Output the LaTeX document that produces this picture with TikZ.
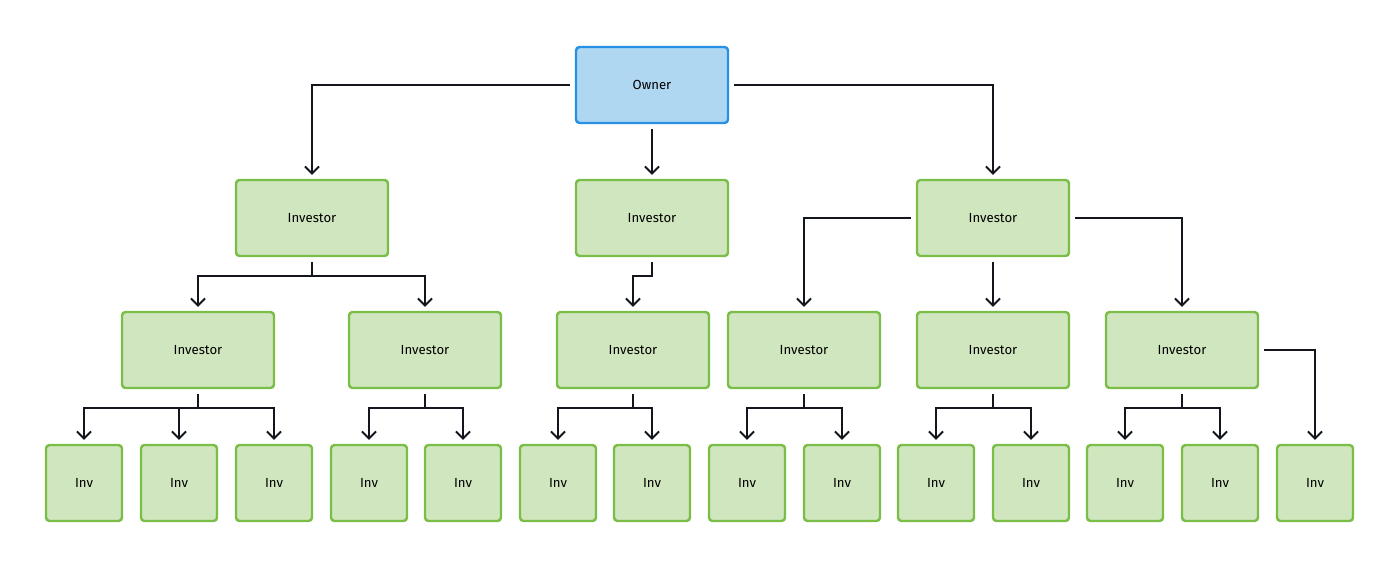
\documentclass[tikz,border=0pt]{standalone}
\usepackage{fontspec}
\setmainfont{Fira Sans}
\usetikzlibrary{positioning}
\usetikzlibrary{arrows.meta}
\definecolor{ownerfill}{RGB}{176, 215, 242}
\definecolor{ownerdraw}{RGB}{40, 145, 228}
\definecolor{invfill}{RGB}{207, 230, 190}
\definecolor{invdraw}{RGB}{122, 190, 72}
\definecolor{linkcolor}{RGB}{20, 22, 30}
\tikzstyle{owner} = [
    draw=ownerdraw,
    fill=ownerfill,
    line width=1.4pt,
    rounded corners=2pt,
    minimum width=152*0.02cm,
    minimum height=76*0.02cm,
    font=\fontsize{7.5}{9}\selectfont
]
\tikzstyle{investor} = [owner, draw=invdraw, fill=invfill]
\tikzstyle{inv} = [investor, minimum width=76*0.02cm]
\tikzstyle{link} = [-{Straight Barb[length=4pt, width=8pt]}, line width=1.1pt, linkcolor, shorten >=4*0.02cm, shorten <=5*0.02cm]

\begin{document}
\begin{tikzpicture}[x=0.02cm, y=-0.02cm]

	\useasboundingbox (0, 0) rectangle (1400, 568);

	%
	% Owner
	\node[owner] (owner) at (652, 85) {Owner};

	%
	% First level
	\node[investor] (i1) at (312, 218) {Investor};
	\node[investor] (i2) at (652, 218) {Investor};
	\node[investor] (i3) at (993, 218) {Investor};

	\draw[link] (owner.west) -| (i1.north);
	\draw[link] (owner) -- (i2);
	\draw[link] (owner.east) -| (i3.north);

	%
	% Second level
	\node[investor] (i11) at (198, 350) {Investor};
	\node[investor] (i12) at (425, 350) {Investor};
	\node[investor] (i21) at (633, 350) {Investor};
	\node[investor] (i31) at (804, 350) {Investor};
	\node[investor] (i32) at (993, 350) {Investor};
	\node[investor] (i33) at (1182, 350) {Investor};

	\draw[link] (i1.south) --++ (0, 19) -| (i11.north);
	\draw[link] (i1.south) --++ (0, 19) -| (i12.north);
	\draw[link] (i2.south) --++ (0, 19) -| (i21.north);
	\draw[link] (i3.west) -| (i31.north);
	\draw[link] (i3) -- (i32);
	\draw[link] (i3.east) -| (i33.north);

	%
	% Third level
	\foreach \x/\name in {84/a, 179/b, 274/c, 369/d, 463/e, 558/f, 652/g, 747/h, 842/k, 936/l, 1031/m, 1125/n, 1220/o, 1315/p}
		\node[inv] (v\name) at (\x, 483) {Inv};

	\foreach \top/\leaf in {i11/a, i11/b, i11/c, i12/d, i12/e, i21/f, i21/g, i31/h, i31/k, i32/l, i32/m, i33/n, i33/o}
		\draw[link] (\top.south) --++ (0, 19) -| (v\leaf.north);
	\draw[link] (i33.east) -| (vp.north);

\end{tikzpicture}
\end{document}
